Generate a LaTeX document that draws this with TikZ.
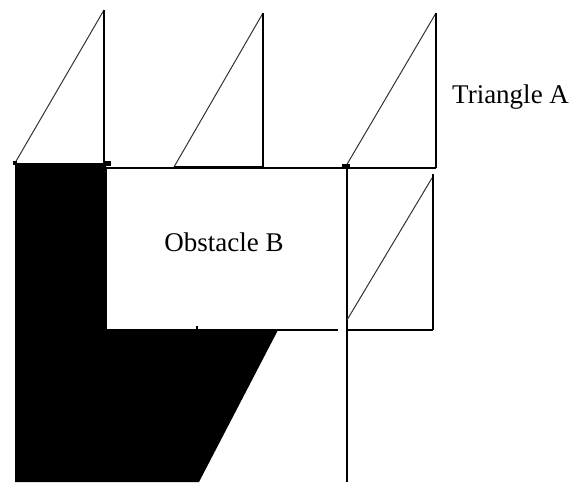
\documentclass[tikz,border=0pt]{standalone}
\usepackage{fontspec}
\setmainfont{Liberation Serif}
\begin{document}
\begin{tikzpicture}[x=1pt,y=-1pt,
  edge/.style={line width=1.3pt,black},
  hyp/.style={line width=1pt,black!80},
  lbl/.style={font=\fontsize{27}{30}\selectfont,inner sep=0pt}]
\useasboundingbox (0,0) rectangle (572,482);
% black region
\fill[black] (15,163) -- (106,163) -- (106,330) -- (278,330) -- (199,482) -- (15,482) -- cycle;
% triangle 1
\draw[hyp] (15,163) -- (104,10);
\draw[edge] (104,10) -- (104,163);
% top line of obstacle
\draw[edge] (106,168) -- (436,168);
% triangle 2
\draw[hyp] (174,167) -- (263,13);
\draw[edge] (263,13) -- (263,167);
\draw[line width=2.2pt] (174,167) -- (263,167);
% triangle 3
\draw[hyp] (346,166) -- (436,13);
\draw[edge] (436,13) -- (436,168);
\fill (342,164) rectangle (350,169);
% obstacle left edge and bottom
\draw[edge] (106,168) -- (106,330);
\draw[edge] (106,330) -- (338,330);
\draw[edge] (347,330) -- (433,330);
\draw[edge] (197,326) -- (197,330);
% vertical line
\draw[edge] (347,168) -- (347,482);
% triangle 4
\draw[hyp] (347,320) -- (432,178);
\draw[edge] (433,174) -- (433,330);
% small marks
\fill (13,161) rectangle (17,165);
\fill (104,161) rectangle (111,166);
% labels
\node[lbl] (obs) at (224,242) {Obstacle B};
\node[lbl,anchor=west] (tri) at (452,97) {Triangle A};
\end{tikzpicture}
\end{document}
